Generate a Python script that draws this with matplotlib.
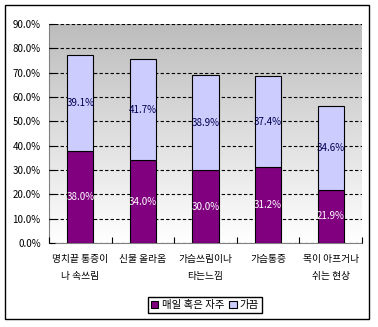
import numpy as np
import matplotlib.pyplot as plt
from matplotlib.patches import Rectangle

plt.rcParams['font.family'] = ['Noto Sans CJK KR', 'DejaVu Sans']

categories = ['명치끝 통증이\n나 속쓰림', '신물 올라옴', '가슴쓰림이나\n타는느낌', '가슴통증', '목이 아프거나\n쉬는 현상']
daily = [38.0, 34.0, 30.0, 31.2, 21.9]
sometimes = [39.1, 41.7, 38.9, 37.4, 34.6]
legend_labels = ['매일 혹은 자주', '가끔']

fig = plt.figure(figsize=(3.78, 3.27), dpi=100)
ax = fig.add_axes([49/378, 1 - 243/327, 313/378, 219/327])

# outer chart frame
fig.patches.append(Rectangle((5/378, 1 - 319/327), 364/378, 314/327, transform=fig.transFigure,
                             fill=False, edgecolor='black', linewidth=1))

# gray (top) to white (bottom) background
t = np.linspace(0, 1, 256).reshape(-1, 1)
shade = 1.0 - t * (1.0 - 0.74)
grad = np.dstack([shade, shade, shade])
ax.imshow(grad, extent=[-0.5, 4.5, 0, 90], aspect='auto', zorder=0, origin='lower')

x = np.arange(len(categories))
w = 0.42
ax.bar(x, daily, w, color='#800080', edgecolor='black', linewidth=0.8, zorder=3, label=legend_labels[0])
ax.bar(x, sometimes, w, bottom=daily, color='#ccccff', edgecolor='black', linewidth=0.8, zorder=3,
       label=legend_labels[1])

for xi, d, s in zip(x, daily, sometimes):
    ax.text(xi, d / 2, f'{d:.1f}%', ha='center', va='center', color='white', fontsize=7, zorder=4)
    ax.text(xi, d + s / 2, f'{s:.1f}%', ha='center', va='center', color='#000050', fontsize=7, zorder=4)

ax.set_xlim(-0.5, 4.5)
ax.set_ylim(0, 90)
ax.set_yticks(np.arange(0, 91, 10))
ax.set_yticklabels([f'{v:.1f}%' for v in np.arange(0, 91, 10)], fontsize=7)
ax.yaxis.grid(True, linestyle=(0, (3, 2)), color='black', linewidth=0.8, zorder=1)
ax.set_axisbelow(False)

ax.set_xticks(np.arange(-0.5, 5, 1))
ax.set_xticklabels([])
ax.set_xticks(x, minor=True)
ax.set_xticklabels(categories, minor=True, fontsize=7, linespacing=1.8)
ax.tick_params(axis='x', which='minor', length=0, pad=8)
ax.tick_params(axis='x', which='major', length=4, direction='in')
ax.tick_params(axis='y', length=4, direction='in', pad=6)

for side in ['top', 'right']:
    ax.spines[side].set_visible(False)
ax.spines['left'].set_color('#808080')
ax.spines['bottom'].set_color('#808080')

fig.legend(loc='center', bbox_to_anchor=(205/378, 1 - 305/327), ncol=2, fontsize=7.5,
           frameon=True, fancybox=False, edgecolor='black', handlelength=0.7, handleheight=0.7,
           handletextpad=0.3, columnspacing=0.5, borderpad=0.3, framealpha=1)

fig.savefig('out.png', dpi=100)
